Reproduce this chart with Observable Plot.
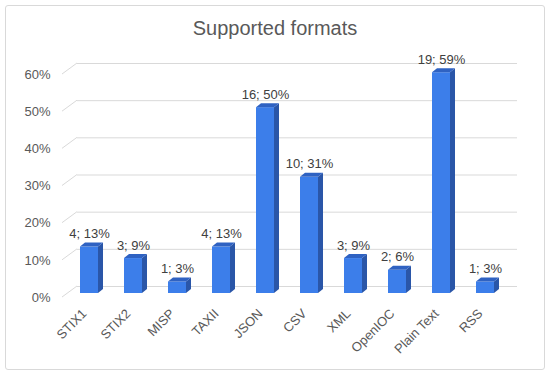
<!DOCTYPE html>
<html><head><meta charset="utf-8">
<script src="https://cdn.jsdelivr.net/npm/d3@7"></script>
<script src="https://cdn.jsdelivr.net/npm/@observablehq/plot@0.6"></script>
<style>
body{margin:0;background:#fff;font-family:"Liberation Sans",Arial,sans-serif;}
#wrap{position:relative;width:550px;height:376px;overflow:hidden;background:#fff}
#frame{position:absolute;left:5px;top:5px;width:540px;height:365px;border:1px solid #d9d9d9;border-radius:3px;box-sizing:border-box}
#title{position:absolute;left:0;width:550px;top:17px;line-height:23px;text-align:center;font-size:20px;color:#595959;}
#chart{position:absolute;left:0;top:0}
#chart svg text{font-family:"Liberation Sans",Arial,sans-serif !important;font-size:13px !important;}
</style></head><body>
<div id="wrap"><div id="frame"></div><div id="chart"></div><div id="title">Supported formats</div></div>
<script>
const formats = ["STIX1","STIX2","MISP","TAXII","JSON","CSV","XML","OpenIOC","Plain Text","RSS"];
const counts = [4,3,1,4,16,10,3,2,19,1];
const shares = [0.125,0.094,0.031,0.125,0.5,0.3125,0.094,0.0625,0.594,0.031];
const percentLabels = [13,9,3,13,50,31,9,6,59,3];
const yTicks = [0,0.1,0.2,0.3,0.4,0.5,0.6];

const rows = formats.map((f,i)=>({format:f,count:counts[i],share:shares[i],pct:percentLabels[i]}));

const FRONT="#3c7eea", SIDE="#2a56a8", TOP="#2f62c2";
const BARW=18, DX=5, DY=-4, DEPTHX=5, DEPTHY=4;

function diagonals(index, scales, values, dims){
  const y = scales.y, ml = dims.marginLeft;
  const g = d3.create("svg:g").attr("stroke","#d9d9d9").attr("fill","none");
  yTicks.forEach(t=>{
    g.append("line").attr("x1",ml).attr("y1",y(t)).attr("x2",ml+15).attr("y2",y(t)-11);
  });
  return g.node();
}
function faces(index, scales){
  const sx = scales.x, sy = scales.y;
  const bw = typeof sx.bandwidth === "function" ? sx.bandwidth() : 44;
  const g = d3.create("svg:g");
  rows.forEach(d=>{
    const x1 = sx(d.format) + (bw-BARW)/2 + DX, x2 = x1 + BARW;
    const yt = sy(d.share) + DY, yb = sy(0) + DY;
    g.append("path").attr("fill",SIDE)
      .attr("d",`M${x2},${yb}L${x2+DEPTHX},${yb-DEPTHY}L${x2+DEPTHX},${yt-DEPTHY}L${x2},${yt}Z`);
    g.append("path").attr("fill",TOP)
      .attr("d",`M${x1},${yt}L${x1+DEPTHX},${yt-DEPTHY}L${x2+DEPTHX},${yt-DEPTHY}L${x2},${yt}Z`);
  });
  return g.node();
}

const chart = Plot.plot({
  width:550, height:376,
  marginLeft:62, marginRight:48, marginTop:74, marginBottom:79,
  style:{fontFamily:'"Liberation Sans",Arial,sans-serif', fontSize:"13px", color:"#595959", background:"transparent", overflow:"visible"},
  x:{domain:formats, padding:0, label:null},
  y:{domain:[0,0.6], label:null},
  marks:[
    Plot.ruleY(yTicks,{stroke:"#d9d9d9", dx:15, dy:-11}),
    diagonals,
    Plot.barY(rows,{x:"format", y:"share", fill:FRONT, insetLeft:13, insetRight:13, dx:DX, dy:DY}),
    faces,
    Plot.text(rows,{x:"format", y:"share", text:d=>`${d.count}; ${d.pct}%`, dx:DX, dy:-13, lineAnchor:"bottom", fill:"#404040", fontSize:13}),
    Plot.axisY({ticks:yTicks, tickSize:0, tickPadding:12, tickFormat:d=>Math.round(d*100)+"%", label:null, fontSize:13}),
    Plot.axisX({tickSize:0, tickRotate:-45, tickPadding:14, label:null, fontSize:13})
  ]
});
document.getElementById("chart").appendChild(chart);
</script>
</body></html>
